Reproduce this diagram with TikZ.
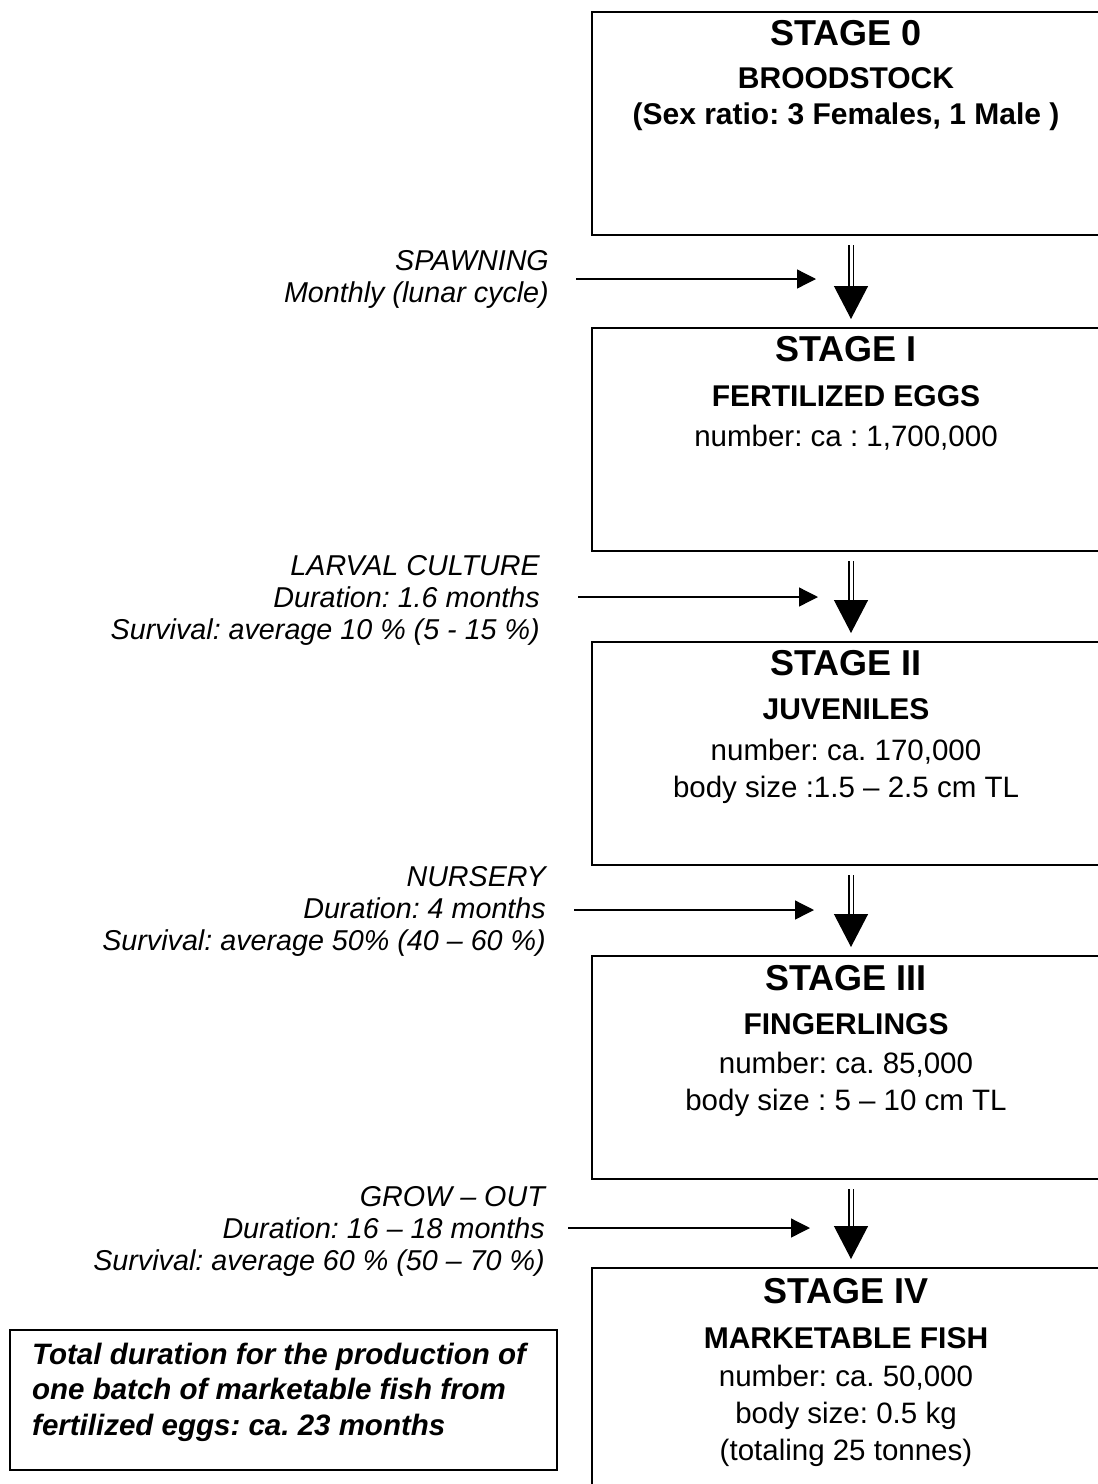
\documentclass[tikz,border=0pt]{standalone}
\usepackage{fontspec}
\setmainfont{Liberation Sans}
\usetikzlibrary{arrows.meta}
\frenchspacing
\begin{document}
\frenchspacing
\begin{tikzpicture}[x=1pt,y=-1pt,
  stagebox/.style={draw, line width=1.3pt, minimum width=508pt, minimum height=223pt, anchor=north west, inner sep=0pt, outer sep=0pt},
  ttl/.style={anchor=base, font=\fontsize{36}{40}\selectfont\bfseries, inner sep=0pt},
  sub/.style={anchor=base, font=\fontsize{30}{34}\selectfont\bfseries, inner sep=0pt},
  txt/.style={anchor=base, font=\fontsize{29.5}{32}\selectfont, inner sep=0pt},
  lbl/.style={anchor=base east, align=right, font=\fontsize{28.7}{32}\selectfont\itshape, inner sep=0pt},
  harrow/.style={line width=1.3pt, -{Triangle[length=19pt,width=19pt]}},
  varrow/.style={line width=1.2pt, double distance=3pt, -{Triangle[length=33pt,width=34pt]}, shorten <=10pt, shorten >=9pt},
]
\useasboundingbox (0,0) rectangle (1098,1484);
\clip (0,0) rectangle (1098,1484);

% stage boxes
\node[stagebox] (b0) at (592,12) {};
\node[stagebox] (b1) at (592,328) {};
\node[stagebox] (b2) at (592,642) {};
\node[stagebox] (b3) at (592,956) {};
\node[stagebox] (b4) at (592,1268) {};

% box texts
\node[ttl] (t0a) at (846,45) {STAGE 0};
\node[sub] (t0b) at (846,88) {BROODSTOCK};
\node[sub] (t0c) at (846,124) {(Sex ratio: 3 Females, 1 Male )};

\node[ttl] (t1a) at (846,361) {STAGE I};
\node[sub] (t1b) at (846,406) {FERTILIZED EGGS};
\node[txt] (t1c) at (846,446) {number: ca : 1,700,000};

\node[ttl] (t2a) at (846,675) {STAGE II};
\node[sub] (t2b) at (846,719) {JUVENILES};
\node[txt] (t2c) at (846,760) {number: ca. 170,000};
\node[txt] (t2d) at (846,797) {body size :1.5 – 2.5 cm TL};

\node[ttl] (t3a) at (846,990) {STAGE III};
\node[sub] (t3b) at (846,1034) {FINGERLINGS};
\node[txt] (t3c) at (846,1073) {number: ca. 85,000};
\node[txt] (t3d) at (846,1110) {body size : 5 – 10 cm TL};

\node[ttl] (t4a) at (846,1303) {STAGE IV};
\node[sub] (t4b) at (846,1348) {MARKETABLE FISH};
\node[txt] (t4c) at (846,1386) {number: ca. 50,000};
\node[txt] (t4d) at (846,1423) {body size: 0.5 kg};
\node[txt] (t4e) at (846,1460) {(totaling 25 tonnes)};

% side labels (anchor = baseline of last line)
\node[lbl] (l0) at (549,302) {SPAWNING\\Monthly (lunar cycle)};
\node[lbl] (l1) at (540,639) {LARVAL CULTURE\\Duration: 1.6 months\\Survival: average 10 \% (5 - 15 \%)};
\node[lbl] (l2) at (546,950) {NURSERY\\Duration: 4 months\\Survival: average 50\% (40 – 60 \%)};
\node[lbl] (l3) at (545,1270) {GROW – OUT\\Duration: 16 – 18 months\\Survival: average 60 \% (50 – 70 \%)};

% vertical arrows
\coordinate (ax) at (851,0);
\draw[varrow] (b0.south -| ax) -- (b1.north -| ax);
\draw[varrow] (b1.south -| ax) -- (b2.north -| ax);
\draw[varrow] (b2.south -| ax) -- (b3.north -| ax);
\draw[varrow] (b3.south -| ax) -- (b4.north -| ax);

% horizontal arrows
\coordinate (h0a) at (576,279); \coordinate (h0b) at (816,279);
\coordinate (h1a) at (578,597); \coordinate (h1b) at (818,597);
\coordinate (h2a) at (574,910); \coordinate (h2b) at (814,910);
\coordinate (h3a) at (568,1228); \coordinate (h3b) at (810,1228);
\draw[harrow] (h0a) -- (h0b);
\draw[harrow] (h1a) -- (h1b);
\draw[harrow] (h2a) -- (h2b);
\draw[harrow] (h3a) -- (h3b);

% total duration box
\node[draw, line width=1.3pt, anchor=north west, minimum width=547pt, minimum height=140pt, inner sep=0pt, outer sep=0pt] (tot) at (10,1330) {};
\node[anchor=base west, align=left, font=\fontsize{29.5}{35.5}\selectfont\bfseries\itshape, inner sep=0pt] (tott) at (32,1435) {Total duration for the production of\\one batch of marketable fish from\\fertilized eggs: ca. 23 months};
\end{tikzpicture}
\end{document}
